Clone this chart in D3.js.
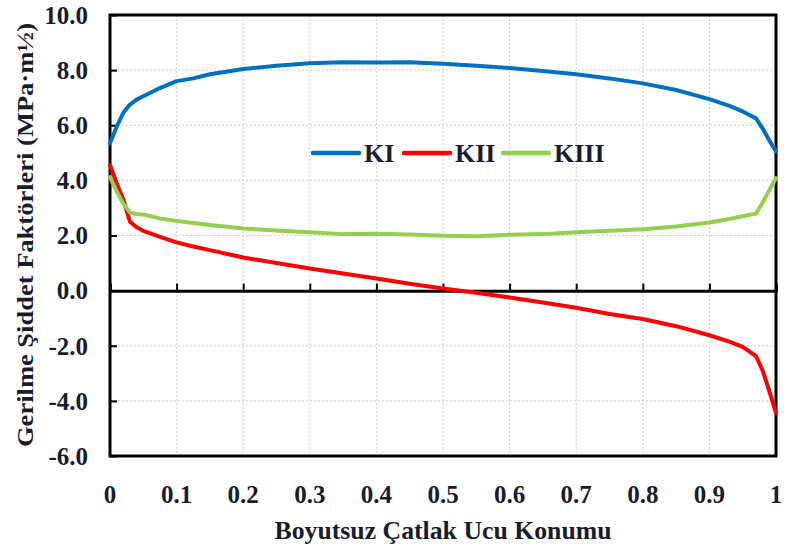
<!DOCTYPE html>
<html><head><meta charset="utf-8">
<script src="https://cdn.jsdelivr.net/npm/d3@7"></script>
<style>body{margin:0;background:#fff;}svg{display:block;}</style>
</head><body>
<svg id="c" width="786" height="550"></svg>
<script>
const xVals = [0, 0.01, 0.02, 0.03, 0.04, 0.05, 0.075, 0.1, 0.125, 0.15, 0.2, 0.25, 0.3, 0.35, 0.4, 0.45, 0.5, 0.55, 0.6, 0.65, 0.7, 0.75, 0.8, 0.85, 0.9, 0.93, 0.95, 0.97, 0.98, 0.99, 1.0];
const kI   = [5.35, 5.95, 6.45, 6.75, 6.93, 7.05, 7.35, 7.6, 7.7, 7.85, 8.04, 8.16, 8.25, 8.29, 8.28, 8.29, 8.23, 8.16, 8.08, 7.97, 7.85, 7.7, 7.52, 7.28, 6.95, 6.7, 6.5, 6.25, 5.88, 5.45, 5.05];
const kII  = [4.55, 3.9, 3.3, 2.5, 2.3, 2.17, 1.95, 1.75, 1.6, 1.47, 1.2, 1.0, 0.8, 0.62, 0.44, 0.25, 0.08, -0.08, -0.25, -0.43, -0.62, -0.85, -1.03, -1.29, -1.62, -1.85, -2.04, -2.38, -2.9, -3.65, -4.45];
const kIII = [4.12, 3.6, 3.15, 2.83, 2.78, 2.76, 2.62, 2.53, 2.45, 2.38, 2.25, 2.18, 2.12, 2.05, 2.06, 2.04, 1.99, 1.97, 2.03, 2.05, 2.12, 2.17, 2.23, 2.33, 2.47, 2.6, 2.7, 2.8, 3.2, 3.65, 4.08];
const seriesNames = ["KI", "KII", "KIII"];
const seriesColors = ["#0070C0", "#FF0000", "#92D050"];
const xTicks = [0, 0.1, 0.2, 0.3, 0.4, 0.5, 0.6, 0.7, 0.8, 0.9, 1];
const xTickLabels = ["0", "0.1", "0.2", "0.3", "0.4", "0.5", "0.6", "0.7", "0.8", "0.9", "1"];
const yTicks = [10, 8, 6, 4, 2, 0, -2, -4, -6];
const yTickLabels = ["10.0", "8.0", "6.0", "4.0", "2.0", "0.0", "-2.0", "-4.0", "-6.0"];
const xTitle = "Boyutsuz Çatlak Ucu Konumu";
const yTitle = "Gerilme  Şiddet Faktörleri (MPa·m½)";

const svg = d3.select("#c");
const L = 110, R = 776, T = 15, B = 456;
const x = d3.scaleLinear().domain([0, 1]).range([L, R]);
const y = d3.scaleLinear().domain([-6, 10]).range([B, T]);
const font = "'Liberation Serif','Times New Roman',serif";
const txtCol = "#1b1b2e";

// grid
const g = svg.append("g");
g.selectAll(".vg").data(xTicks.filter(t => t > 0 && t < 1)).enter().append("line")
  .attr("x1", d => x(d)).attr("x2", d => x(d)).attr("y1", T).attr("y2", B)
  .attr("stroke", "#cfcfcf").attr("stroke-width", 1).attr("stroke-dasharray", "2,2");
g.selectAll(".hg").data(yTicks.filter(t => t > -6 && t < 10 && t !== 0)).enter().append("line")
  .attr("x1", L).attr("x2", R).attr("y1", d => y(d)).attr("y2", d => y(d))
  .attr("stroke", "#cfcfcf").attr("stroke-width", 1).attr("stroke-dasharray", "2,2");

// y axis ticks inward
const yAxis = d3.axisLeft(y).tickValues(yTicks).tickSize(-7).tickFormat("");
const ya = svg.append("g").attr("transform", `translate(${L},0)`).call(yAxis);
ya.select(".domain").remove();
ya.selectAll("line").attr("stroke", "#000").attr("stroke-width", 2);

svg.append("g").selectAll("text").data(yTicks).enter().append("text")
  .attr("x", 88).attr("y", d => y(d)).attr("dy", "0.35em")
  .attr("text-anchor", "end").attr("font-family", font).attr("font-weight", "bold")
  .attr("font-size", 25).attr("fill", txtCol).text((d, i) => yTickLabels[i]);

// zero axis with upward ticks
const xAxis = d3.axisTop(x).tickValues(xTicks.filter(t => t > 0 && t < 1)).tickSize(7).tickFormat("");
const xa = svg.append("g").attr("transform", `translate(0,${y(0)})`).call(xAxis);
xa.select(".domain").attr("stroke", "#000").attr("stroke-width", 3);
xa.selectAll("line").attr("stroke", "#000").attr("stroke-width", 2);

svg.append("g").selectAll("text").data(xTicks).enter().append("text")
  .attr("x", d => x(d)).attr("y", 503)
  .attr("text-anchor", "middle").attr("font-family", font).attr("font-weight", "bold")
  .attr("font-size", 25).attr("fill", txtCol).text((d, i) => xTickLabels[i]);

// frame
svg.append("rect").attr("x", L).attr("y", T).attr("width", R - L).attr("height", B - T)
  .attr("fill", "none").attr("stroke", "#000").attr("stroke-width", 3);

// lines
const data = [kI, kII, kIII];
const line = d3.line().x((d, i) => x(xVals[i])).y(d => y(d));
svg.append("g").selectAll("path").data(data).enter().append("path")
  .attr("d", d => line(d)).attr("fill", "none")
  .attr("stroke", (d, i) => seriesColors[i]).attr("stroke-width", 4)
  .attr("stroke-linejoin", "round").attr("stroke-linecap", "round");

// legend
const legX = [313, 404, 503];
const leg = svg.append("g");
seriesNames.forEach((n, i) => {
  leg.append("line").attr("x1", legX[i]).attr("x2", legX[i] + 46)
    .attr("y1", 153).attr("y2", 153).attr("stroke", seriesColors[i]).attr("stroke-width", 4.5)
    .attr("stroke-linecap", "round");
  leg.append("text").attr("x", legX[i] + 51).attr("y", 153).attr("dy", "0.35em")
    .attr("font-family", font).attr("font-weight", "bold").attr("font-size", 26)
    .attr("fill", txtCol).text(n);
});

// titles
svg.append("text").attr("x", 443).attr("y", 539).attr("text-anchor", "middle")
  .attr("font-family", font).attr("font-weight", "bold").attr("font-size", 25)
  .attr("textLength", 337).attr("lengthAdjust", "spacingAndGlyphs")
  .attr("fill", txtCol).text(xTitle);
svg.append("text").attr("transform", "translate(33,235) rotate(-90)").attr("text-anchor", "middle")
  .attr("font-family", font).attr("font-weight", "bold").attr("font-size", 23)
  .attr("textLength", 424).attr("lengthAdjust", "spacingAndGlyphs")
  .attr("fill", txtCol).text(yTitle);
</script>
</body></html>
